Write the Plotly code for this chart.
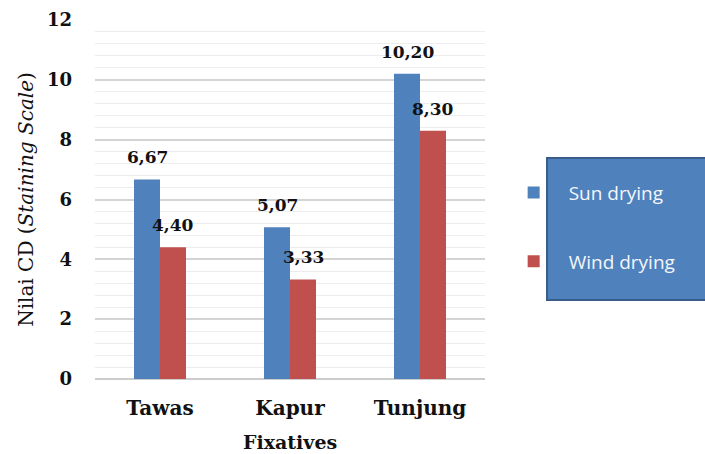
import plotly.graph_objects as go

categories = ["Tawas", "Kapur", "Tunjung"]
sun_drying = [6.67, 5.07, 10.20]
wind_drying = [4.40, 3.33, 8.30]
series_names = ["Sun drying", "Wind drying"]
y_ticks = [0, 2, 4, 6, 8, 10, 12]
x_title = "Fixatives"

colors = ["#4f81bd", "#c0504d"]
SERIF = "DejaVu Serif, Liberation Serif, serif"

def fmt(v):
    return f"{v:.2f}".replace(".", ",")

fig = go.Figure()
for name, vals, col, grp in zip(series_names, [sun_drying, wind_drying], colors, ["a", "b"]):
    fig.add_trace(go.Bar(
        name=name, x=categories, y=vals, marker=dict(color=col, line=dict(width=0)),
        legendgroup=grp,
    ))

# value labels
label_font = dict(family=SERIF, size=17, color="#111111", weight="bold")
for vals, shift in [(sun_drying, -13), (wind_drying, 13)]:
    for c, v in zip(categories, vals):
        fig.add_annotation(x=c, y=v, text=fmt(v), showarrow=False, xshift=shift, yshift=22,
                           font=label_font, xref="x", yref="y")

# x-axis title
fig.add_annotation(x=0.5, y=-0.176, xref="paper", yref="paper", text=x_title, showarrow=False,
                   yanchor="middle", font=dict(family=SERIF, size=19, color="#111111", weight="bold"))

# legend background box
fig.add_shape(type="rect", xref="paper", yref="paper", x0=1.159, x1=1.60, y0=0.22, y1=0.6156,
              fillcolor="#4f81bd", line=dict(color="#385d8a", width=2), layer="above")

fig.update_layout(
    width=705, height=454,
    margin=dict(l=95, r=220, t=20, b=75),
    paper_bgcolor="white", plot_bgcolor="white",
    barmode="group", bargap=0.6, bargroupgap=0,
    showlegend=True,
    legend=dict(x=1.035, y=0.572, xanchor="left", yanchor="top", bgcolor="rgba(0,0,0,0)",
                font=dict(family="Open Sans, Lato, sans-serif", size=19, color="#f4f6fa"),
                itemwidth=60, traceorder="grouped", tracegroupgap=41),
    xaxis=dict(
        showgrid=False, showline=False, ticks="", automargin=False,
        tickfont=dict(family=SERIF, size=20, color="#111111", weight="bold"),
        ticklabelstandoff=15,
    ),
    yaxis=dict(
        range=[0, 12], tickvals=y_ticks, ticktext=[str(t) for t in y_ticks],
        showgrid=True, gridcolor="#d4d4d4", gridwidth=1.5, automargin=False,
        minor=dict(dtick=0.4, showgrid=True, gridcolor="#ededed", gridwidth=1),
        zeroline=True, zerolinecolor="#cccccc", zerolinewidth=1.5,
        showline=False, ticks="",
        tickfont=dict(family=SERIF, size=18, color="#111111", weight="bold"),
        ticklabelstandoff=22,
        title=dict(text="Nilai CD (<i>Staining Scale</i>)", standoff=7,
                   font=dict(family=SERIF, size=20, color="#111111")),
    ),
)

fig.write_html("out.html")
